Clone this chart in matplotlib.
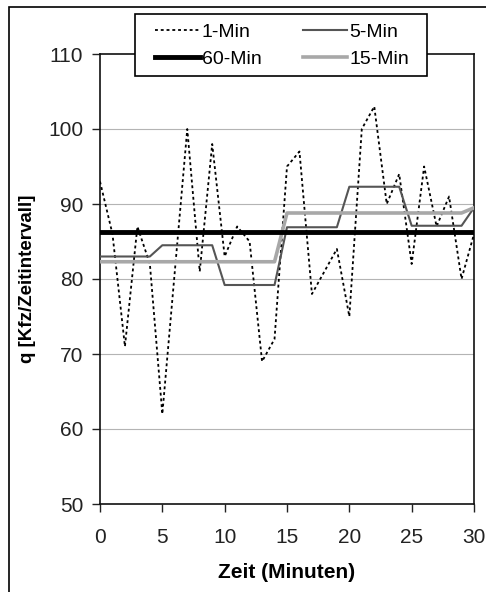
import numpy as np
import matplotlib.pyplot as plt
from matplotlib.patches import Rectangle

plt.rcParams['font.family'] = ['Liberation Sans', 'DejaVu Sans']

# minutes 0..30
minutes = list(range(31))

q_1min = [93, 86, 71, 87, 82, 62, 81, 100, 81, 98,
          83, 87, 85, 69, 72, 95, 97, 78, 81, 84,
          75, 100, 103, 90, 94, 82, 95, 87, 91, 80, 86]

q_5min = [83, 83, 83, 83, 83, 84.5, 84.5, 84.5, 84.5, 84.5,
          79.2, 79.2, 79.2, 79.2, 79.2, 86.9, 86.9, 86.9, 86.9, 86.9,
          92.3, 92.3, 92.3, 92.3, 92.3, 87.1, 87.1, 87.1, 87.1, 87.1, 89.5]

q_15min = [82.3] * 15 + [88.8] * 15 + [89.5]

q_60min = [86.3] * 31

yticks = [50, 60, 70, 80, 90, 100, 110]
xticks = [0, 5, 10, 15, 20, 25, 30]

W, H = 486, 592
fig = plt.figure(figsize=(W / 100, H / 100), dpi=100)
ax = fig.add_axes([100 / W, 88 / H, 374 / W, 450 / H])

# horizontal grid
for g in [60, 70, 80, 90, 100]:
    ax.axhline(g, color='#b4b4b4', lw=0.8, zorder=1)

l1, = ax.plot(minutes, q_1min, color='black', lw=1.3,
              linestyle=(0, (1.6, 1.6)), label='1-Min', zorder=3)
l5, = ax.plot(minutes, q_5min, color='#555555', lw=1.5, label='5-Min', zorder=4)
l15, = ax.plot(minutes, q_15min, color='#a8a8a8', lw=2.6, label='15-Min', zorder=4)
l60, = ax.plot(minutes, q_60min, color='black', lw=3.5, label='60-Min', zorder=5)

ax.set_xlim(0, 30)
ax.set_ylim(50, 110)
ax.set_xticks(xticks)
ax.set_yticks(yticks)
ax.tick_params(axis='both', labelsize=15, colors='#222222', length=6,
               width=1, direction='out')
ax.tick_params(axis='y', pad=6)
ax.tick_params(axis='x', pad=11)
for s in ax.spines.values():
    s.set_linewidth(1.2)
    s.set_color('#111111')

ax.set_xlabel('Zeit (Minuten)', fontsize=15, fontweight='bold', labelpad=12)
ax.set_ylabel('q [Kfz/Zeitintervall]', fontsize=13.5, fontweight='bold', labelpad=9)

# legend box drawn by hand, entries placed inside it
fig.patches.append(Rectangle((135 / W, 1 - 76 / H), 292 / W, 62 / H,
                             transform=fig.transFigure, facecolor='white',
                             edgecolor='black', lw=1.2, zorder=8))
leg = fig.legend(handles=[l1, l60, l5, l15], ncol=2, loc='upper left',
                 bbox_to_anchor=(155 / W, 1 - 23 / H, 254 / W, 0),
                 mode='expand', fontsize=14, frameon=False, borderpad=0,
                 borderaxespad=0, handlelength=2.3, handletextpad=0.1,
                 labelspacing=0.5)
leg.set_zorder(10)

# scan frame
fig.patches.append(Rectangle((9 / W, -0.01), 1.0, 1 - 7 / H + 0.01,
                             transform=fig.transFigure, fill=False,
                             edgecolor='black', lw=1.2))

fig.savefig('out.png', dpi=100)
